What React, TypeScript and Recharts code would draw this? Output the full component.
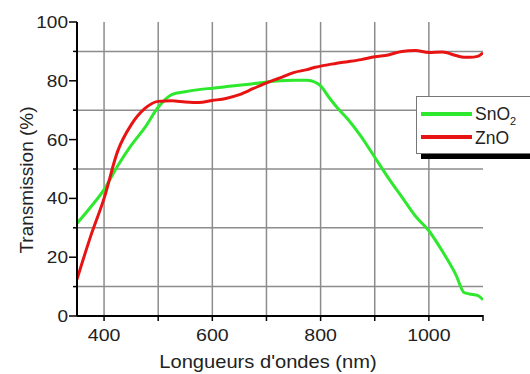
import React from "react";
import {
  LineChart,
  Line,
  XAxis,
  YAxis,
  CartesianGrid,
} from "recharts";

const wavelengths = [
  350, 375, 400, 425, 450, 475, 500, 525, 550, 575, 600, 625, 650, 675, 700,
  725, 750, 775, 790, 800, 815, 830, 850, 875, 900, 925, 950, 975, 1000, 1025,
  1050, 1065, 1075, 1090, 1100,
];

const sno2 = [
  31.5, 37, 43, 51, 58, 64, 71, 75.3, 76.3, 77, 77.5, 78, 78.5, 79, 79.6, 80,
  80.2, 80.2, 79.5, 78.3, 74.5, 71, 67, 61, 54, 47, 40.5, 34, 29, 22, 14, 8,
  7.5, 7, 5.5,
];

const zno = [
  12.5, 27, 40, 56, 65, 70.5, 73, 73.2, 72.8, 72.6, 73.3, 74, 75.3, 77.3, 79.3,
  81, 82.8, 83.8, 84.6, 85, 85.5, 86, 86.5, 87.2, 88.2, 88.8, 90, 90.3, 89.6,
  89.8, 88.6, 88, 88, 88.3, 89.5,
];

const xTicks = [400, 500, 600, 700, 800, 900, 1000, 1100];
const xLabels = [400, 600, 800, 1000];
const yTicks = [0, 10, 20, 30, 40, 50, 60, 70, 80, 90, 100];
const yLabels = [0, 20, 40, 60, 80, 100];
const gridX = [400, 500, 600, 700, 800, 900, 1000];
const gridY = [10, 30, 50, 70, 90];

const rows = wavelengths.map((w, i) => ({ w, sno2: sno2[i], zno: zno[i] }));

const font = "Liberation Sans, Arial, sans-serif";
const green = "#2ee82e";
const red = "#e81414";
const ink = "#222";

// the original text is a bit wide, so labels get a small horizontal stretch
const XTick = (props: any) => {
  const { x, y, payload } = props;
  const ax = y; // tickSize 0, tickMargin 0 -> y is the axis line
  return (
    <g>
      <line x1={x} x2={x} y1={ax - 1} y2={ax + 5} stroke="#000" strokeWidth={1.5} />
      {xLabels.includes(payload.value) && (
        <g transform={`translate(${x},${ax + 25}) scale(1.15,1)`}>
          <text textAnchor="middle" fontSize={17} fill={ink} fontFamily={font}>
            {payload.value}
          </text>
        </g>
      )}
    </g>
  );
};

const YTick = (props: any) => {
  const { x, y, payload } = props;
  const ax = x; // tickSize 0, tickMargin 0 -> x is the axis line
  const major = yLabels.includes(payload.value);
  return (
    <g>
      <line x1={ax - (major ? 8 : 4)} x2={ax} y1={y} y2={y} stroke="#000" strokeWidth={1.5} />
      {major && (
        <g transform={`translate(${ax - 9},${y + 6}) scale(1.12,1)`}>
          <text textAnchor="end" fontSize={17} fill={ink} fontFamily={font}>
            {payload.value}
          </text>
        </g>
      )}
    </g>
  );
};

const XTitle = () => (
  <g transform="translate(268,368) scale(1.15,1)">
    <text textAnchor="middle" fontSize={17.5} fill={ink} fontFamily={font}>
      Longueurs d'ondes (nm)
    </text>
  </g>
);

const YTitle = () => (
  <text
    x={33}
    y={180}
    transform="rotate(-90, 33, 180)"
    textAnchor="middle"
    fontSize={19}
    fill={ink}
    fontFamily={font}
  >
    Transmission (%)
  </text>
);

// legend sits over the plot, like the original figure (box + dark drop shadow)
const LegendBox = () => (
  <div style={{ position: "absolute", left: 416, top: 96, width: 130, height: 64 }}>
    <div
      style={{ position: "absolute", left: 5, top: 5, width: 130, height: 58, background: "#000" }}
    />
    <div
      style={{
        position: "absolute",
        left: 0,
        top: 0,
        width: 130,
        height: 58,
        background: "#fff",
        border: "1px solid #777",
        boxSizing: "border-box",
        fontFamily: font,
        fontSize: 17.5,
        color: ink,
        lineHeight: "20px",
      }}
    >
      <div style={{ position: "absolute", left: 4, top: 15, width: 51, height: 4, background: green }} />
      <div style={{ position: "absolute", left: 58, top: 7, whiteSpace: "nowrap" }}>
        SnO<sub style={{ fontSize: 11, lineHeight: 0 }}>2</sub>
      </div>
      <div style={{ position: "absolute", left: 4, top: 38, width: 51, height: 4, background: red }} />
      <div style={{ position: "absolute", left: 58, top: 31 }}>ZnO</div>
    </div>
  </div>
);

export default function App() {
  return (
    <div
      style={{
        position: "absolute",
        left: 0,
        top: 0,
        width: 530,
        height: 374,
        overflow: "hidden",
        background: "#fff",
      }}
    >
      <LineChart
        width={530}
        height={374}
        data={rows}
        margin={{ top: 22, right: 47, left: 0, bottom: 0 }}
      >
        <CartesianGrid
          horizontalValues={gridY}
          verticalValues={gridX}
          stroke="#8c8c8c"
          strokeWidth={1.5}
        />
        <XAxis
          dataKey="w"
          type="number"
          domain={[350, 1100]}
          ticks={xTicks}
          tick={<XTick />}
          tickSize={0}
          tickMargin={0}
          tickLine={false}
          height={58}
          axisLine={{ stroke: "#000", strokeWidth: 2 }}
          allowDataOverflow
          label={<XTitle />}
        />
        <YAxis
          type="number"
          domain={[0, 100]}
          ticks={yTicks}
          width={77}
          tickSize={0}
          tickMargin={0}
          tickLine={false}
          axisLine={{ stroke: "#000", strokeWidth: 2 }}
          tick={<YTick />}
          label={<YTitle />}
        />
        <Line
          dataKey="sno2"
          type="monotone"
          stroke={green}
          strokeWidth={3}
          dot={false}
          isAnimationActive={false}
        />
        <Line
          dataKey="zno"
          type="monotone"
          stroke={red}
          strokeWidth={3}
          dot={false}
          isAnimationActive={false}
        />
      </LineChart>
      <LegendBox />
    </div>
  );
}
